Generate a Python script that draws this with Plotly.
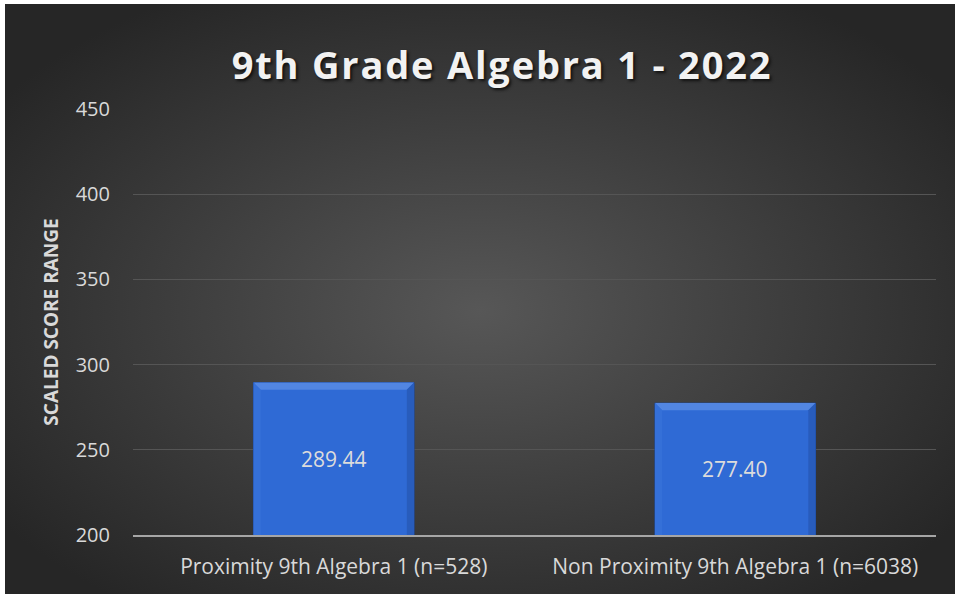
import base64
import plotly.graph_objects as go

categories = ["Proximity 9th Algebra 1 (n=528)", "Non Proximity 9th Algebra 1 (n=6038)"]
scores = [289.44, 277.40]
y_ticks = [200, 250, 300, 350, 400, 450]

W, H = 955, 594
ML, MR, MT, MB = 133, 19, 109, 59
Y0, Y1 = 200, 450

# radial gradient background as an svg image (plotly has no radial paper fill)
svg = (
    '<svg xmlns="http://www.w3.org/2000/svg" width="950" height="590">'
    '<defs><radialGradient id="g" cx="50%" cy="52%" r="62%">'
    '<stop offset="0%" stop-color="#575757"/>'
    '<stop offset="100%" stop-color="#262626"/>'
    '</radialGradient></defs>'
    '<rect width="950" height="590" fill="url(#g)"/></svg>'
)
bg_src = "data:image/svg+xml;base64," + base64.b64encode(svg.encode()).decode()

pw, ph = W - ML - MR, H - MT - MB

fig = go.Figure()
fig.add_trace(go.Bar(
    x=categories, y=scores, width=0.4,
    marker=dict(color="#2F6AD5", line=dict(color="#1E4A9C", width=1)),
    hoverinfo="x+y",
))

# bevel edges on the bars
bx = 0.018
by = 4.2
for i, v in enumerate(scores):
    l, r = i - 0.2, i + 0.2
    fig.add_shape(type="path", xref="x", yref="y", line_width=0, fillcolor="#5286E2",
                  path=f"M {l},{v} L {r},{v} L {r-bx},{v-by} L {l+bx},{v-by} Z")
    fig.add_shape(type="path", xref="x", yref="y", line_width=0, fillcolor="#285CBC",
                  path=f"M {r},{v} L {r},{Y0} L {r-bx},{Y0} L {r-bx},{v-by} Z")
    fig.add_shape(type="path", xref="x", yref="y", line_width=0, fillcolor="#3570D8",
                  path=f"M {l},{v} L {l},{Y0} L {l+bx},{Y0} L {l+bx},{v-by} Z")
    fig.add_annotation(x=categories[i], y=(v + Y0) / 2, text=f"{v:.2f}", showarrow=False,
                       font=dict(family="Open Sans", size=21, color="#DCDCDC"))

fig.add_layout_image(dict(
    source=bg_src, xref="paper", yref="paper",
    x=(5 - ML) / pw, y=(H - MB - 4) / ph, sizex=(W - 5) / pw, sizey=(H - 4) / ph,
    xanchor="left", yanchor="top", sizing="stretch", layer="below",
))

fig.update_layout(
    width=W, height=H,
    margin=dict(l=ML, r=MR, t=MT, b=MB),
    paper_bgcolor="white", plot_bgcolor="rgba(0,0,0,0)",
    showlegend=False,
    title=dict(text="<b>9th Grade Algebra 1 - 2022</b>", x=502 / W, xanchor="center",
               y=1 - 66 / H, yanchor="middle",
               font=dict(family="Open Sans", size=38, color="#F2F2F2",
                         shadow="2px 2px 3px #111111")),
    bargap=0.6,
)
fig.update_yaxes(range=[Y0, Y1], tickvals=y_ticks, gridcolor="#555555", gridwidth=1,
                 zeroline=False, showline=False, ticklabelstandoff=22,
                 tickfont=dict(family="Open Sans", size=20, color="#D9D9D9"),
                 title=dict(text="<b>SCALED SCORE RANGE</b>", standoff=12,
                            font=dict(family="Open Sans", size=19, color="#D9D9D9")))
fig.update_xaxes(showline=True, linecolor="#A6A6A6", linewidth=2, ticks="",
                 ticklabelstandoff=12,
                 tickfont=dict(family="Open Sans", size=21, color="#D9D9D9"))

# no page margin; the title is letter-spaced like the original
post = (
    "document.body.style.margin='0';"
    "var t=document.querySelector('.gtitle');"
    "if(t){t.style.letterSpacing='1.8px';}"
)
fig.write_html("out.html", post_script=post, config={"displayModeBar": False})
